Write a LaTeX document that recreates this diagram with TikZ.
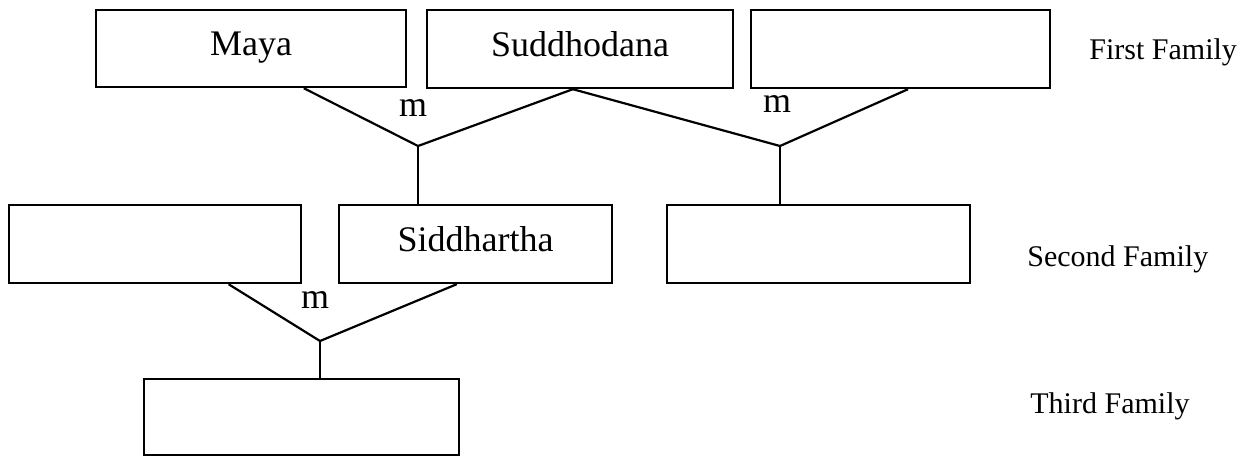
\documentclass[tikz,border=0pt]{standalone}
\usepackage{fontspec}
\setmainfont{Liberation Serif}
\usetikzlibrary{calc}
\tikzset{
  box/.style={draw, line width=1.2pt, rectangle, inner sep=0pt, text height=12pt, text depth=5pt, font=\fontsize{18}{20}\selectfont},
  link/.style={line width=1.1pt},
  mlabel/.style={font=\fontsize{18}{20}\selectfont, inner sep=0pt},
  famlabel/.style={font=\fontsize{15}{17}\selectfont, anchor=west, inner sep=0pt}
}
\begin{document}
\begin{tikzpicture}[x=0.5pt,y=-0.5pt]
\useasboundingbox (0,0) rectangle (1247,456);
% first row
\node[box, minimum width=155pt, minimum height=38.5pt] (maya) at (251,48.5) {Maya};
\node[box, minimum width=153pt, minimum height=39pt] (sud) at (580,49) {Suddhodana};
\node[box, minimum width=149.5pt, minimum height=39pt] (top3) at (900.5,49) {};
% second row
\node[box, minimum width=146pt, minimum height=39pt] (left2) at (155,244) {};
\node[box, minimum width=136.5pt, minimum height=39pt] (sid) at (475.5,244) {Siddhartha};
\node[box, minimum width=151.5pt, minimum height=39pt] (right2) at (818.5,244) {};
% third row
\node[box, minimum width=157.5pt, minimum height=38pt] (bot) at (301.5,417) {};
% junctions
\coordinate (j1) at (418,146);
\coordinate (j2) at (780,146);
\coordinate (j3) at (320,341);
% connectors
\draw[link] ($(maya.south west)!0.669!(maya.south east)$) -- (j1);
\draw[link] ($(sud.south west)!0.477!(sud.south east)$) -- (j1);
\draw[link] ($(sud.south west)!0.477!(sud.south east)$) -- (j2);
\draw[link] ($(top3.south west)!0.525!(top3.south east)$) -- (j2);
\draw[link] (j1) -- (j1 |- sid.north);
\draw[link] (j2) -- (j2 |- right2.north);
\draw[link] ($(left2.south west)!0.75!(left2.south east)$) -- (j3);
\draw[link] ($(sid.south west)!0.432!(sid.south east)$) -- (j3);
\draw[link] (j3) -- (j3 |- bot.north);
% m labels
\node[mlabel] (m1) at (413,108) {m};
\node[mlabel] (m2) at (777,104) {m};
\node[mlabel] (m3) at (315,300) {m};
% family labels
\node[famlabel] (f1) at (1089,52) {First Family};
\node[famlabel] (f2) at (1027,259) {Second Family};
\node[famlabel] (f3) at (1030,406) {Third Family};
\end{tikzpicture}
\end{document}
